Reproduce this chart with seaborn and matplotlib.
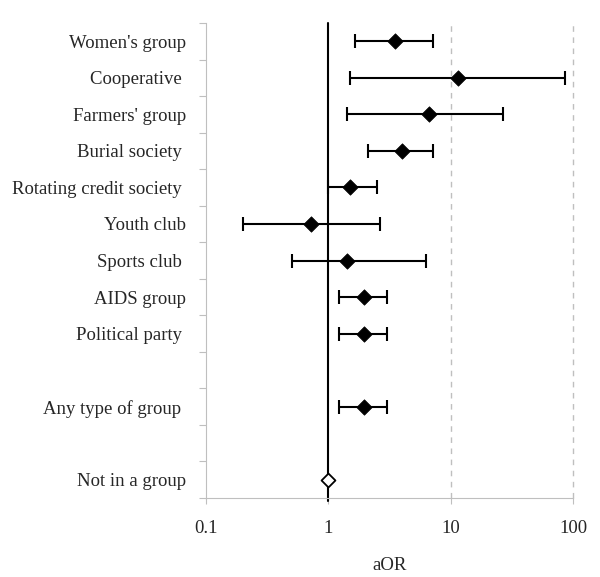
import numpy as np
import pandas as pd
import matplotlib
matplotlib.use("Agg")
import matplotlib.pyplot as plt
import seaborn as sns

# rows from top to bottom, "" = empty spacer row
rows = ["Women's group", "Cooperative ", "Farmers' group", "Burial society ",
        "Rotating credit society ", "Youth club", "Sports club ", "AIDS group",
        "Political party ", "", "Any type of group ", "", "Not in a group"]

# adjusted odds ratios and 95% CI for the non-empty rows
groups = ["Women's group", "Cooperative ", "Farmers' group", "Burial society ",
          "Rotating credit society ", "Youth club", "Sports club ", "AIDS group",
          "Political party ", "Any type of group "]
aor = [3.5, 11.4, 6.6, 4.0, 1.5, 0.72, 1.42, 1.95, 1.95, 1.95]
ci_low = [1.66, 1.51, 1.42, 2.12, 1.0, 0.2, 0.51, 1.22, 1.22, 1.22]
ci_high = [7.2, 86, 27, 7.2, 2.5, 2.65, 6.3, 3.0, 3.0, 3.0]

reference = "Not in a group"
reference_aor = 1.0

sns.set_style("white")
plt.rcParams["font.family"] = ["Liberation Serif", "DejaVu Serif"]

df = pd.DataFrame({"group": groups, "aor": aor, "lo": ci_low, "hi": ci_high})
df["row"] = [rows.index(g) for g in df["group"]]
ref = pd.DataFrame({"aor": [reference_aor], "row": [rows.index(reference)]})

fig = plt.figure(figsize=(6, 5.77), dpi=100)
ax = fig.add_axes([0.343, 0.137, 0.612, 0.823])

grey = "#BFBFBF"
for x in [10, 100]:
    ax.axvline(x, color=grey, lw=1, ls=(0, (4, 4)), zorder=0, clip_on=False)
ax.axvline(1, ymin=-0.006, ymax=1, color="black", lw=1.5, zorder=1, clip_on=False)

ax.errorbar(df["aor"], df["row"],
            xerr=[df["aor"] - df["lo"], df["hi"] - df["aor"]],
            fmt="none", ecolor="black", elinewidth=1.5, capsize=4.7,
            capthick=1.5, zorder=2)
sns.scatterplot(data=df, x="aor", y="row", marker="D", s=62, color="black",
                edgecolor="black", linewidth=0.5, ax=ax, zorder=3, legend=False)
sns.scatterplot(data=ref, x="aor", y="row", marker="D", s=50, color="white",
                edgecolor="black", linewidth=1.3, ax=ax, zorder=3, legend=False)

ax.set_xscale("log")
ax.set_xlim(0.1, 100)
ax.set_xticks([0.1, 1, 10, 100])
ax.set_xticklabels(["0.1", "1", "10", "100"])
ax.xaxis.set_minor_locator(matplotlib.ticker.NullLocator())

n = len(rows)
ax.set_ylim(n - 0.5, -0.5)
ax.set_yticks(np.arange(n + 1) - 0.5)
ax.set_yticklabels([])
ax.set_yticks(np.arange(n), minor=True)
ax.set_yticklabels(rows, minor=True)

ax.tick_params(axis="y", which="major", direction="out", length=5, width=0.8,
               color=grey, left=True)
ax.tick_params(axis="y", which="minor", length=0, pad=14, labelsize=13.5)
ax.tick_params(axis="x", which="major", direction="out", length=4, width=0.8,
               color=grey, bottom=True, pad=12, labelsize=13.5)

for side in ["top", "right"]:
    ax.spines[side].set_visible(False)
for side in ["left", "bottom"]:
    ax.spines[side].set_color(grey)
    ax.spines[side].set_linewidth(0.8)

ax.set_xlabel("aOR", fontsize=13.5, labelpad=14)
ax.set_ylabel("")

fig.savefig("out.png", dpi=100)
